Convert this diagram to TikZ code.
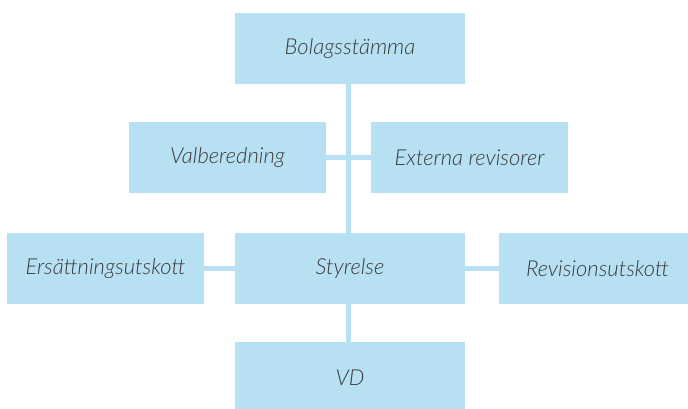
\documentclass[tikz,border=0pt]{standalone}
\usepackage{fontspec}
\setmainfont{Lato}
\newfontfamily\orgfont{Lato Light}
\usetikzlibrary{positioning}
\definecolor{boxblue}{HTML}{B7E0F2}
\definecolor{boxtext}{HTML}{3A3A3A}
\tikzset
{
    orgbox/.style = {rectangle, fill=boxblue, align=center, inner sep=0pt, minimum height=71pt, text=boxtext, font=\orgfont\itshape\fontsize{22}{26}\selectfont},
    widebox/.style = {orgbox, minimum width=230pt},
    sidebox/.style = {orgbox, minimum width=197pt},
    link/.style = {draw=boxblue, line width=5pt}
}
\begin{document}
\begin{tikzpicture}
	[x=1pt, y=-1pt]
	\useasboundingbox (0,0) rectangle (688,408);
	% lines behind the boxes
	\node[widebox] (bolag) at (350,48.5) {Bolagsstämma};
	\node[sidebox] (valb) at (227.5,157.5) {Valberedning};
	\node[sidebox] (ext) at (469.5,157.5) {Externa revisorer};
	\node[widebox] (styr) at (350,268.5) {Styrelse};
	\node[sidebox] (ers) at (105.5,268.5) {Ersättningsutskott};
	\node[sidebox] (rev) at (597.5,268.5) {Revisionsutskott};
	\node[widebox] (vd) at (350,377.5) {VD};
	\draw[link] ([xshift=-1.5pt]bolag.south) -- ([xshift=-1.5pt]styr.north);
	\draw[link] (valb.east) -- (ext.west);
	\draw[link] (ers.east) -- (styr.west);
	\draw[link] (styr.east) -- (rev.west);
	\draw[link] ([xshift=-1.5pt]styr.south) -- ([xshift=-1.5pt]vd.north);
\end{tikzpicture}
\end{document}
